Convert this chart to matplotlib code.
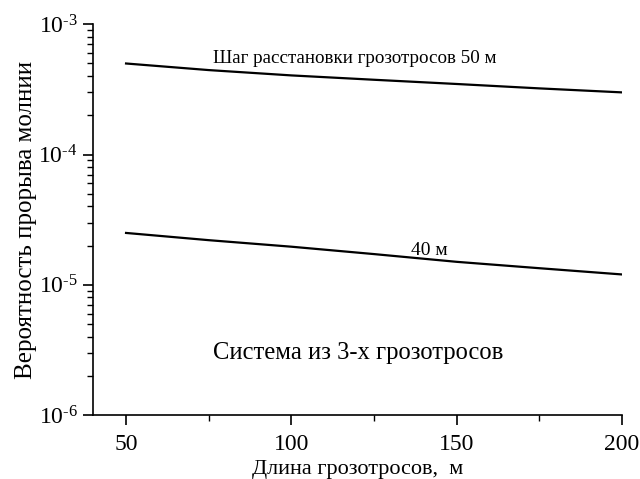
import math
import matplotlib
matplotlib.use("Agg")
import matplotlib.pyplot as plt
from matplotlib.ticker import LogLocator, FixedLocator, NullFormatter, FuncFormatter

plt.rcParams['font.family'] = ['Liberation Serif', 'DejaVu Serif']
plt.rcParams['mathtext.fontset'] = 'custom'
plt.rcParams['mathtext.rm'] = 'Liberation Serif'
plt.rcParams['mathtext.it'] = 'Liberation Serif:italic'

# Cable length, m
length = [50, 75, 100, 125, 150, 175, 200]
# Strike-through probability for 50 m spacing and 40 m spacing
prob_50m = [5.0e-4, 4.45e-4, 4.05e-4, 3.75e-4, 3.48e-4, 3.22e-4, 3.0e-4]
prob_40m = [2.5e-5, 2.2e-5, 1.96e-5, 1.72e-5, 1.5e-5, 1.34e-5, 1.2e-5]

xticks = [50, 100, 150, 200]
xlabel = 'Длина грозотросов,  м'
ylabel = 'Вероятность прорыва молнии'


def pow10_label(v, pos):
    e = round(math.log10(v))
    return r'$10^{\text{%d}}$' % e


fig = plt.figure(figsize=(6.4, 4.79), dpi=100)
ax = fig.add_axes([0.1453, 0.1336, 0.8266, 0.8157])

ax.plot(length, prob_50m, color='black', lw=1.6)
ax.plot(length, prob_40m, color='black', lw=1.6)

ax.set_yscale('log')
ax.set_xlim(40, 200)
ax.set_ylim(1e-6, 1e-3)

ax.xaxis.set_major_locator(FixedLocator(xticks))
ax.xaxis.set_minor_locator(FixedLocator([75, 125, 175]))
ax.yaxis.set_major_locator(LogLocator(base=10, numticks=10))
ax.yaxis.set_minor_locator(LogLocator(base=10, subs=range(2, 10), numticks=20))
ax.yaxis.set_minor_formatter(NullFormatter())
ax.yaxis.set_major_formatter(FuncFormatter(pow10_label))

for s in ['top', 'right']:
    ax.spines[s].set_visible(False)
for s in ['left', 'bottom']:
    ax.spines[s].set_linewidth(1.2)

ax.tick_params(axis='both', which='major', direction='out', length=7, width=1.2,
               labelsize=17, color='black')
ax.tick_params(axis='both', which='minor', direction='out', length=4, width=1.0)
ax.tick_params(axis='x', pad=7)
ax.tick_params(axis='y', pad=4)

ax.set_xlabel(xlabel, fontsize=16, labelpad=3)
ax.set_ylabel(ylabel, fontsize=18, labelpad=1)

ax.text(76.3, 5.5e-4, 'Шаг расстановки грозотросов 50 м', fontsize=13.7,
        ha='left', va='center')
ax.text(141.7, 1.84e-5, '40 м', fontsize=14, ha='center', va='center')
ax.text(120.2, 3.0e-6, 'Система из 3-х грозотросов', fontsize=17.7,
        ha='center', va='center')

fig.savefig('out.png', dpi=100)
